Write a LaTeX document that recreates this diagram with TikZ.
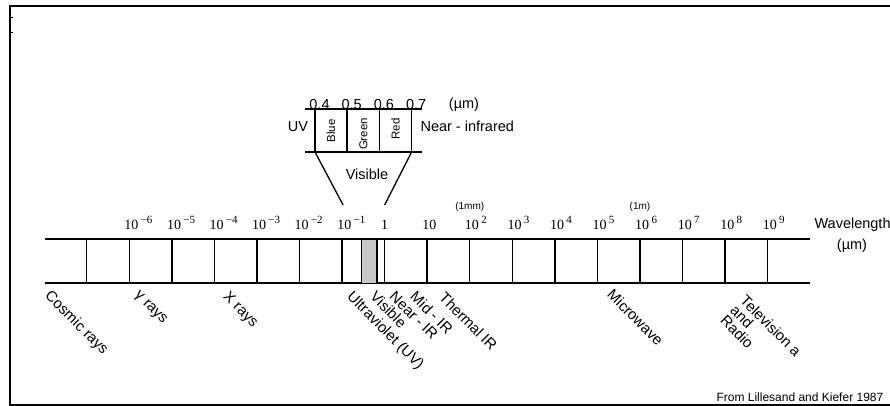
\documentclass[tikz,border=0pt]{standalone}
\usepackage{fontspec}
\setmainfont{Liberation Sans}
\newfontfamily\numfont{Liberation Serif}
\usetikzlibrary{calc}
\definecolor{visgray}{rgb}{0.78,0.78,0.78}
\newcommand{\tenpow}[1]{10\,\raisebox{0.42em}{\fontsize{11}{11}\selectfont #1}}

\begin{document}
\begin{tikzpicture}[x=1pt,y=-1pt,
    band/.style={line width=1.5pt},
    lab/.style={font=\fontsize{14.5}{14}\selectfont},
    small/.style={font=\fontsize{10}{12}\selectfont},
    cell/.style={font=\fontsize{11.5}{12}\selectfont,rotate=90},
    expo/.style={font=\numfont\fontsize{14}{15}\selectfont,anchor=base west,inner sep=0pt},
    region/.style={font=\fontsize{15}{14}\selectfont,rotate=-45,anchor=north west,inner sep=0pt,align=left}]

    \useasboundingbox (0,0) rectangle (890,406);

    % Frame. Right side is cut off.
    \draw[line width=2pt] (890,6) -- (10,6) -- (10,405) -- (890,405);
    \draw[line width=1pt] (10,18) -- ++(3,0) (10,33) -- ++(3,0);

    % Band. Decades are 42.56px apart.
    \path[band,draw] (45,239) -- ++(765,0) (45,283) -- ++(765,0);
    \path[draw,fill=visgray,line width=0.6pt] (361,239) rectangle (377,283);
    \foreach \i in {0,...,16} {
        \coordinate (t\i) at (86.7+42.56*\i,239);
        \draw[band] (t\i) -- ++(0,44);
    }
    \draw[band] (377,239) -- ++(0,44);

    % Powers of ten
    \foreach \i/\e in {1/−6,2/−5,3/−4,4/−3,5/−2,6/−1,9/2,10/3,11/4,12/5,13/6,14/7,15/8,16/9}
        \node[expo] (p\i) at ($(t\i)+(-5,-10)$) {\tenpow{\e}};
    \node[expo,anchor=base] (p7) at ($(t7)+(0,-10)$) {1};
    \node[expo] (p8) at ($(t8)+(-5,-10)$) {10};
    \node[small,anchor=base] (mm) at ($(t9)+(0,-30)$) {(1mm)};
    \node[small,anchor=base] (m) at ($(t13)+(0,-30)$) {(1m)};

    \node[lab,anchor=base west] (wl) at (811,228) {Wavelength};
    \node[lab,anchor=base] (wlu) at (852,249) {(µm)};

    % Visible inset
    \path[band,draw] (305,109) -- ++(117,0) (305,152) -- ++(117,0);
    \foreach \i/\w in {0/0.4,1/0.5,2/0.6,3/0.7} {
        \coordinate (v\i) at (315+32.2*\i,109);
        \coordinate (b\i) at ($(v\i)+(0,43)$);
        \draw[band] (v\i) -- (b\i);
        \node[lab,anchor=base] (w\i) at ($(v\i)+(4.5,0.5)$) {\w};
    }
    \node[lab,anchor=base] (um) at (464,108.5) {(µm)};
    \node[cell] (blue) at (331,131) {Blue};
    \node[cell] (green) at (363.4,134) {Green};
    \node[cell] (red) at (395.6,129) {Red};
    \node[lab,anchor=base] (uv) at (298,131.7) {UV};
    \node[lab,anchor=base west] (nir) at (417,131.7) {Near - infrared};
    \node[lab,anchor=base] (vis) at (367,179) {Visible};

    \coordinate (fl) at ($(t6)+(1,-34)$);
    \coordinate (fr) at ($(t7)+(0,-34)$);
    \draw[line width=1.3pt] (b0) -- (fl) (b3) -- (fr);

    % Regions under the band
    \node[region] (cos) at (52,289) {Cosmic rays};
    \node[region] (gam) at (140,290) {γ rays};
    \node[region] (xr) at (230,290) {X rays};
    \node[region] (ultra) at (354,290) {Ultraviolet (UV)};
    \node[region] (visb) at (377,290) {Visible};
    \node[region] (near) at (396,290) {Near - IR};
    \node[region] (mid) at (417,290) {Mid - IR};
    \node[region] (therm) at (446,291) {Thermal IR};
    \node[region] (micro) at (614,288) {Microwave};
    \node[region] (tv) at (747,294) {Television a\\and\\Radio};

    \node[font=\fontsize{12}{14}\selectfont,anchor=base west] (src) at (713,401)
        {From Lillesand and Kiefer 1987};

\end{tikzpicture}
\end{document}
